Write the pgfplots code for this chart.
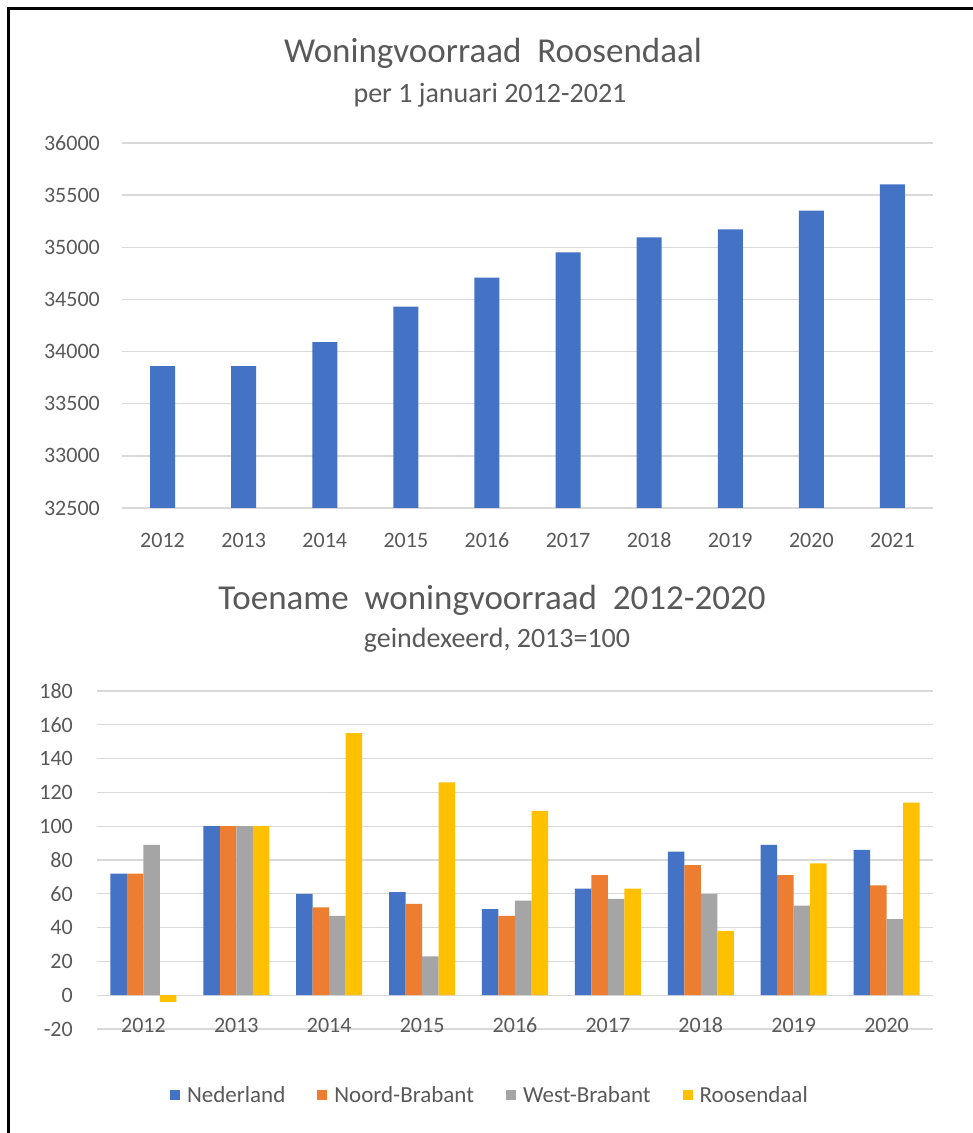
\documentclass[border=0pt]{standalone}
\usepackage{fontspec}
\setmainfont{Carlito}
\usepackage{pgfplots}
\pgfplotsset{compat=1.18}
\definecolor{cBlue}{HTML}{4472C4}
\definecolor{cOrange}{HTML}{ED7D31}
\definecolor{cGray}{HTML}{A5A5A5}
\definecolor{cYellow}{HTML}{FFC000}
\definecolor{txt}{HTML}{595959}
\definecolor{gridc}{HTML}{D9D9D9}
\pgfplotsset{mystyle/.style={
  scale only axis, axis line style={draw=none}, major tick length=0pt,
  ymajorgrids, major grid style={draw=gridc, line width=1.3pt},
  tick label style={font=\fontsize{22}{26}\selectfont, text=txt},
  /pgf/number format/assume math mode=true,
  /pgf/number format/1000 sep={},
  scaled y ticks=false,
  yticklabel style={anchor=east, inner sep=0pt},
  xticklabel style={anchor=center, inner sep=0pt},
}}
\begin{document}
\begin{tikzpicture}
\path[use as bounding box] (0pt,0pt) rectangle (973pt,1133pt);
\fill[white] (0pt,0pt) rectangle (973pt,1133pt);
\draw[line width=3pt] (8.5pt,0pt) -- (8.5pt,1124pt) -- (973pt,1124pt);

\node[anchor=base, text=txt, font=\fontsize{35}{40}\selectfont] at (493pt,1070pt) {Woningvoorraad\ \ Roosendaal};
\node[anchor=base, text=txt, font=\fontsize{28}{32}\selectfont] at (490pt,1030pt) {per 1 januari 2012-2021};

\begin{axis}[mystyle,
  at={(122pt,625pt)}, anchor=south west, width=811pt, height=365pt,
  xmin=-0.5, xmax=9.5, ymin=32500, ymax=36000,
  ytick={32500,33000,...,36000},
  xtick={0,...,9}, xticklabels={2012,2013,2014,2015,2016,2017,2018,2019,2020,2021},
  yticklabel style={xshift=-22pt},
  xticklabel style={yshift=-32pt},
  ybar, bar width=25pt]
\addplot[fill=cBlue, draw=none] coordinates {
(0,33860) (1,33860) (2,34090) (3,34430) (4,34710) (5,34950) (6,35095) (7,35172) (8,35351) (9,35604)};
\end{axis}

\node[anchor=base, text=txt, font=\fontsize{35}{40}\selectfont] at (492pt,523pt) {Toename\ \ woningvoorraad\ \ 2012-2020};
\node[anchor=base, text=txt, font=\fontsize{28}{32}\selectfont] at (497pt,485pt) {geindexeerd, 2013=100};

\begin{axis}[mystyle,
  at={(97pt,104pt)}, anchor=south west, width=836pt, height=338pt,
  xmin=-0.5, xmax=8.5, ymin=-20, ymax=180,
  ytick={-20,0,...,180},
  xtick={0,...,8}, xticklabels={2012,2013,2014,2015,2016,2017,2018,2019,2020},
  yticklabel style={xshift=-24pt},
  xticklabel style={yshift=4pt},
  ybar=0pt, bar width=16.5pt,
  legend columns=4,
  legend style={at={(0.470,-0.195)}, anchor=center, draw=none, fill=none,
    font=\fontsize{23}{27}\selectfont, text=txt, inner sep=0pt,
    /tikz/every odd column/.append style={column sep=5pt},
    /tikz/every even column/.append style={column sep=30pt}},
  legend image code/.code={\fill[#1] (0pt,-5pt) rectangle (10pt,5pt);}]
\addplot[fill=cBlue, draw=none] coordinates {(0,72) (1,100) (2,60) (3,61) (4,51) (5,63) (6,85) (7,89) (8,86)};
\addplot[fill=cOrange, draw=none] coordinates {(0,72) (1,100) (2,52) (3,54) (4,47) (5,71) (6,77) (7,71) (8,65)};
\addplot[fill=cGray, draw=none] coordinates {(0,89) (1,100) (2,47) (3,23) (4,56) (5,57) (6,60) (7,53) (8,45)};
\addplot[fill=cYellow, draw=none] coordinates {(0,-4) (1,100) (2,155) (3,126) (4,109) (5,63) (6,38) (7,78) (8,114)};
\legend{Nederland, Noord-Brabant, West-Brabant, Roosendaal}
\end{axis}
\end{tikzpicture}
\end{document}
